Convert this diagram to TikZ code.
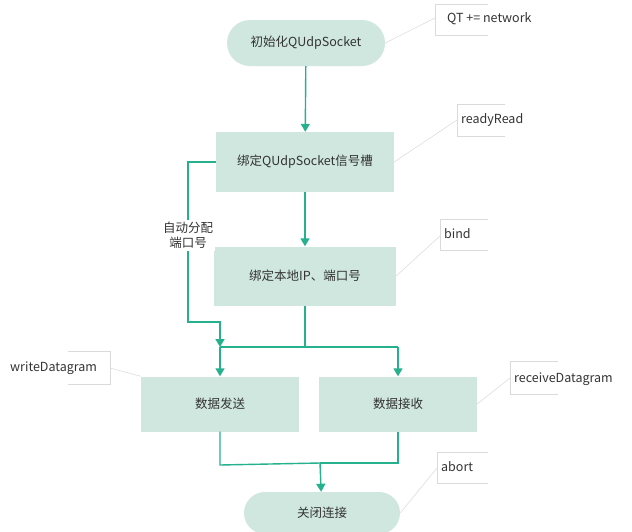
\documentclass[tikz,border=0pt]{standalone}
\usepackage{fontspec}
\setmainfont{Noto Sans CJK SC}
\usetikzlibrary{arrows.meta}
\definecolor{boxfill}{HTML}{CFE7DF}
\definecolor{flow}{HTML}{26B18E}
\definecolor{txt}{HTML}{333333}
\definecolor{ann}{HTML}{DADADA}
\tikzset{
  x=1pt,y=-1pt,
  every node/.style={font=\fontsize{12.5}{15}\selectfont, text=txt},
  box/.style={fill=boxfill, minimum width=#1, minimum height=58, inner sep=0},
  pill/.style={fill=boxfill, rounded corners=23, minimum width=158, minimum height=46, inner sep=0},
  flowline/.style={draw=flow, line width=1.4pt, -{Triangle[length=8pt,width=9pt]}},
  flowplain/.style={draw=flow, line width=1.4pt},
  annline/.style={draw=ann, line width=0.5pt},
  annbox/.style={draw=ann, line width=0.6pt},
}
\begin{document}
\begin{tikzpicture}
\useasboundingbox (0,0) rectangle (632,531);
\clip (0,0) rectangle (632,531);
\fill[white] (0,0) rectangle (632,531);
% nodes
\node[pill] (init) at (306,43) {初始化QUdpSocket};
\node[box=178, minimum height=60] (slot) at (305,162) {绑定QUdpSocket信号槽};
\node[box=182, minimum height=59] (bind) at (305,276) {绑定本地IP、端口号};
\node[box=158, minimum height=55] (send) at (220,404) {数据发送};
\node[box=158, minimum height=55] (recv) at (398,404) {数据接收};
\node[pill, minimum width=156, minimum height=42, rounded corners=21] (close) at (322,513) {关闭连接};
% coordinates
\coordinate (jl) at (220,347);
\coordinate (jm) at (305,347);
\coordinate (jr) at (398,347);
\coordinate (bm) at (320,463);
% flow
\draw[flowline] (init) -- (slot);
\draw[flowline] (slot) -- (bind);
\draw[flowline] (slot.west) -- (188,162) -- node[fill=white, inner sep=2pt, align=center, pos=0.46]{自动分配\\端口号} (188,322) -- (220,322) -- (jl);
\draw[flowplain] (bind.south) -- (jm);
\draw[flowplain] (jl) -- (jr);
\draw[flowline] (jl) -- (send);
\draw[flowline] (jr) -- (recv);
\draw[flowplain] (send.south) -- (220,465) -- (bm);
\draw[flowplain] (recv.south) -- (398,463) -- (bm);
\draw[flowline] (bm) -- (close);
% annotations
\node[anchor=west, inner sep=0] (a1) at (447,19) {QT += network};
\draw[annbox] (488,4) -- (435,4) -- (435,35) -- (488,35);
\draw[annline] (init.east) -- (435,18);
\node[anchor=west, inner sep=0] (a2) at (461,120) {readyRead};
\draw[annbox] (505,104) -- (457,104) -- (457,136) -- (505,136);
\draw[annline] (slot.east) -- (457,120);
\node[anchor=west, inner sep=0] (a3) at (444,234) {bind};
\draw[annbox] (488,219) -- (440,219) -- (440,250) -- (488,250);
\draw[annline] (bind.east) -- (440,236);
\node[anchor=west, inner sep=0] (a4) at (10,368) {writeDatagram};
\draw[annbox] (68,351) -- (110,351) -- (110,384) -- (68,384);
\draw[annline] (110,368) -- (send.north west);
\node[anchor=west, inner sep=0] (a5) at (514,379) {receiveDatagram};
\draw[annbox] (558,361) -- (510,361) -- (510,394) -- (558,394);
\draw[annline] (510,378) -- (recv.east);
\node[anchor=west, inner sep=0] (a6) at (441,467) {abort};
\draw[annbox] (488,452) -- (437,452) -- (437,483) -- (488,483);
\draw[annline] (437,468) -- (close.east);
\end{tikzpicture}
\end{document}
